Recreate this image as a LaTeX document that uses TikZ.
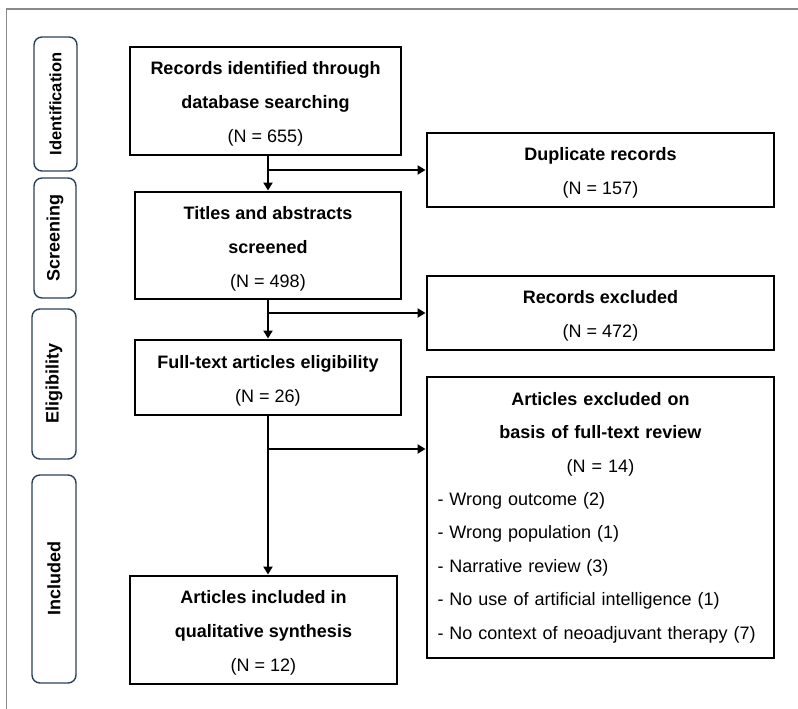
\documentclass[tikz,border=0pt]{standalone}
\usepackage{fontspec}
\setmainfont{Liberation Sans}
\usetikzlibrary{arrows.meta}
\definecolor{stageblue}{HTML}{2B3F5C}
\definecolor{framegray}{HTML}{8A8A8A}
\newcommand{\topstrut}{\rule{0pt}{19pt}}
\tikzset{
  box/.style={draw=black, line width=2.9pt, align=center, inner sep=0pt,
    font=\fontsize{18}{34}\selectfont},
  stage/.style={draw=stageblue, line width=1.4pt, rounded corners=8pt, inner sep=0pt},
  stagetext/.style={rotate=90, font=\bfseries\fontsize{18}{20}\selectfont},
  conn/.style={line width=2.9pt, -{Triangle[length=8pt,width=9pt]}},
}
\begin{document}
\begin{tikzpicture}[x=1pt,y=1pt]
\useasboundingbox (0,0) rectangle (798,709);
% frame
\draw[framegray, line width=1.6pt] (6.5,0) -- (6.5,700) -- (798,700);

% stage labels
\node[stage, minimum width=43pt, minimum height=134pt] (sid) at (55.5,605) {};
\node[stagetext, font=\bfseries\fontsize{16.5}{20}\selectfont] (tid) at (sid.center) {Identification};
\node[stage, minimum width=42pt, minimum height=120pt] (ssc) at (55,471) {};
\node[stagetext] (tsc) at (ssc.center) {Screening};
\node[stage, minimum width=44pt, minimum height=150pt] (sel) at (54,325) {};
\node[stagetext] (tel) at (sel.center) {Eligibility};
\node[stage, minimum width=44pt, minimum height=208pt] (sin) at (54,130) {};
\node[stagetext] (tin) at (sin.center) {Included};

% main boxes
\node[box, minimum width=271pt, minimum height=108pt] (rec) at (265.5,608)
  {\topstrut\textbf{Records identified through}\\\textbf{database searching}\\(N = 655)};
\node[box, minimum width=347pt, minimum height=74pt] (dup) at (600.5,539)
  {\topstrut\textbf{Duplicate records}\\(N = 157)};
\node[box, minimum width=266pt, minimum height=107pt] (tit) at (268,463.5)
  {\topstrut\textbf{Titles and abstracts}\\\textbf{screened}\\(N = 498)};
\node[box, minimum width=347pt, minimum height=74pt] (rex) at (600.5,396)
  {\topstrut\textbf{Records excluded}\\(N = 472)};
\node[box, minimum width=266pt, minimum height=75pt] (full) at (268,331.5)
  {\topstrut\textbf{Full-text articles eligibility}\\(N = 26)};
\node[box, minimum width=347pt, minimum height=281pt, text width=326pt, inner xsep=10.5pt, align=left,
  font=\fontsize{18}{33.4}\selectfont] (art) at (600.5,191.5)
  {\centering\textbf{Articles excluded on}\\\textbf{basis of full-text review}\\(N = 14)\par
   \raggedright
   - Wrong outcome (2)\\
   - Wrong population (1)\\
   - Narrative review (3)\\
   - No use of artificial intelligence (1)\\
   - No context of neoadjuvant therapy (7)\par};
\node[box, minimum width=267pt, minimum height=108pt] (inc) at (263.5,79)
  {\topstrut\textbf{Articles included in}\\\textbf{qualitative synthesis}\\(N = 12)};

% connectors
\draw[conn] (rec.south -| tit.north) -- (tit.north);
\draw[conn] (tit.north |- dup.west) -- (dup.west);
\draw[conn] (tit.south) -- (full.north);
\draw[conn] (tit.south |- rex.west) -- (rex.west);
\coordinate (b3) at (268,260);
\draw[conn] (full.south) -- (full.south |- inc.north);
\draw[conn] (b3) -- (b3 -| art.west);
\end{tikzpicture}
\end{document}
